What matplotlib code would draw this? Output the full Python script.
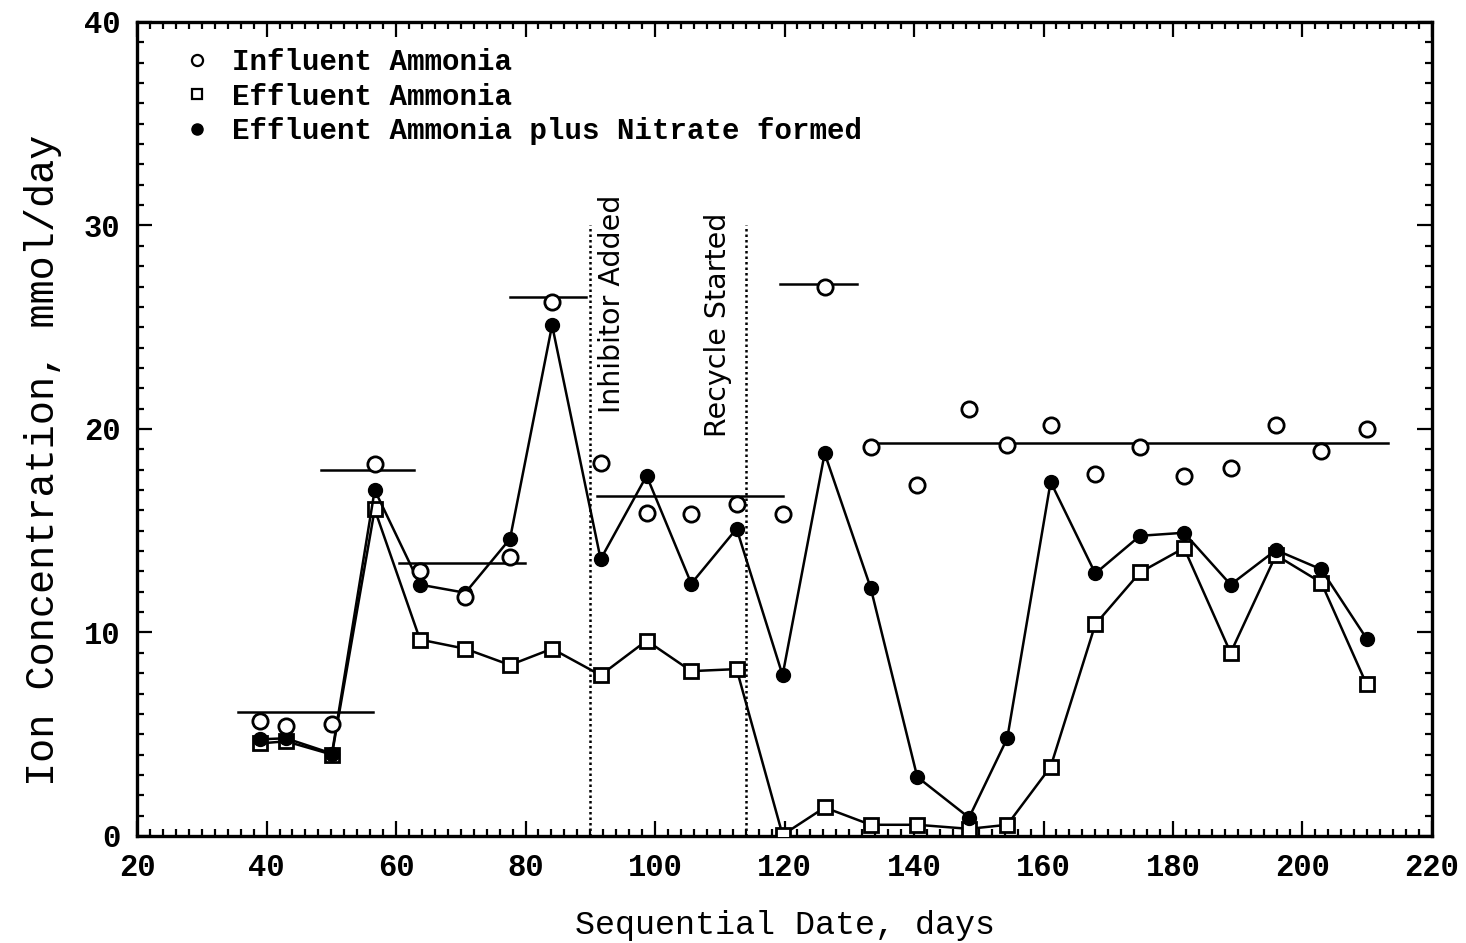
import matplotlib
matplotlib.use("Agg")
import matplotlib.pyplot as plt
from matplotlib.ticker import MultipleLocator

# sampling days
days = [39.0, 43.0, 50.1, 56.7, 63.7, 70.7, 77.6, 84.1, 91.6, 98.7, 105.6, 112.6,
        119.7, 126.2, 133.3, 140.5, 148.5, 154.4, 161.1, 168.0, 174.9, 181.7,
        188.9, 195.9, 202.9, 209.9]

influent = [5.65, 5.4, 5.5, 18.3, 13.0, 11.75, 13.7, 26.25, 18.35, 15.85, 15.8, 16.3,
            15.8, 27.0, 19.1, 17.25, 21.0, 19.2, 20.2, 17.8, 19.1, 17.7,
            18.1, 20.2, 18.9, 20.0]

effluent = [4.55, 4.65, 4.0, 16.05, 9.65, 9.2, 8.4, 9.2, 7.9, 9.6, 8.1, 8.2,
            0.05, 1.4, 0.55, 0.55, 0.35, 0.55, 3.4, 10.4, 12.95, 14.15,
            9.0, 13.8, 12.45, 7.45]

eff_nitrate = [4.75, 4.8, 4.05, 17.0, 12.35, 11.95, 14.6, 25.1, 13.6, 17.7, 12.4, 15.1,
               7.9, 18.8, 12.2, 2.9, 0.9, 4.8, 17.4, 12.9, 14.75, 14.9,
               12.35, 14.05, 13.1, 9.7]

# period means of influent ammonia: (start, end, level)
mean_start = [35.6, 48.4, 60.5, 77.6, 91.0, 119.3, 132.5]
mean_end = [56.5, 62.8, 79.9, 89.3, 119.8, 131.2, 213.2]
mean_level = [6.1, 18.0, 13.4, 26.5, 16.7, 27.1, 19.3]

event_days = [90.0, 114.0]
event_labels = ["Inhibitor Added", "Recycle Started"]
event_text_x = [93.3, 109.7]
event_text_y = [20.8, 19.6]

mono = "Liberation Mono"

fig = plt.figure(figsize=(14.66, 9.43), dpi=100)
ax = fig.add_axes([0.0935, 0.1135, 0.8833, 0.8632])

for s, e, lvl in zip(mean_start, mean_end, mean_level):
    ax.plot([s, e], [lvl, lvl], color="black", lw=1.8, zorder=2)

for d in event_days:
    ax.plot([d, d], [0, 30], color="black", lw=1.8, ls=(0, (1, 1.2)), zorder=2)
for tx, ty, lab in zip(event_text_x, event_text_y, event_labels):
    ax.text(tx, ty, lab, rotation=90, ha="center", va="bottom",
            fontsize=20.5, family="DejaVu Sans")

ax.plot(days, effluent, color="black", lw=1.8, marker="s", ms=10, mfc="white",
        mec="black", mew=2.0, zorder=3)
ax.plot(days, eff_nitrate, color="black", lw=1.8, marker="o", ms=10, mfc="black",
        mec="black", zorder=4)
ax.plot(days, influent, ls="none", marker="o", ms=11, mfc="white",
        mec="black", mew=2.0, zorder=5)

# legend
h1, = ax.plot([], [], ls="none", marker="o", ms=8, mfc="white", mec="black", mew=1.6)
h2, = ax.plot([], [], ls="none", marker="s", ms=7, mfc="white", mec="black", mew=1.6)
h3, = ax.plot([], [], ls="none", marker="o", ms=8, mfc="black", mec="black")
leg = ax.legend([h1, h2, h3],
                ["Influent Ammonia", "Effluent Ammonia",
                 "Effluent Ammonia plus Nitrate formed"],
                loc="upper left", bbox_to_anchor=(0.017, 1.0), frameon=False,
                handlelength=0.8, handletextpad=0.8, labelspacing=0.22,
                prop={"family": mono, "weight": "bold", "size": 21})

ax.set_xlim(20, 220)
ax.set_ylim(0, 40)
ax.xaxis.set_major_locator(MultipleLocator(20))
ax.xaxis.set_minor_locator(MultipleLocator(2))
ax.yaxis.set_major_locator(MultipleLocator(10))
ax.yaxis.set_minor_locator(MultipleLocator(1))
ax.tick_params(which="both", direction="in", top=True, right=True, width=1.6)
ax.tick_params(which="major", length=11, labelsize=22, pad=12)
ax.tick_params(which="minor", length=5)
for lab in ax.get_xticklabels() + ax.get_yticklabels():
    lab.set_family(mono)
    lab.set_weight("bold")
for sp in ax.spines.values():
    sp.set_linewidth(2.4)

ax.set_xlabel("Sequential Date, days", family=mono, fontsize=24, labelpad=20)
ax.set_ylabel("Ion Concentration, mmol/day", family=mono, fontsize=29)
ax.yaxis.set_label_coords(-0.058, 0.461)

fig.savefig("out.png", dpi=100)
